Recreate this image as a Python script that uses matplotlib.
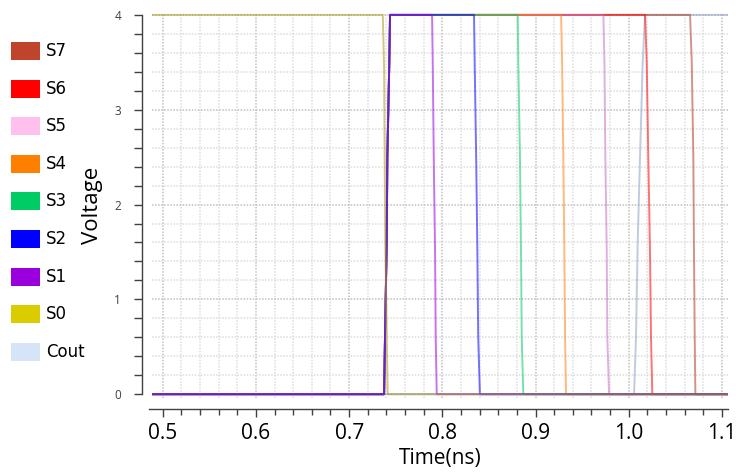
import matplotlib
matplotlib.use('Agg')
from matplotlib import pyplot as plt
from matplotlib.patches import Rectangle
from matplotlib.ticker import MultipleLocator

plt.rcParams['font.family'] = ['Open Sans', 'DejaVu Sans']

# time window of the transient run (ns)
t_begin, t_end = 0.4885, 1.11

# common rising edge of S1..S7 after S0 drops
rise_t = [0.7375, 0.7385, 0.7403, 0.7410, 0.7431, 0.7439]
rise_v = [0, 0.6, 1.6, 2.5, 3.5, 4]

# falling edges, voltages along each edge
fall_v = [4, 3.5, 2.5, 1.5, 0.6, 0]
s1_fall = [0.7890, 0.7897, 0.7908, 0.7922, 0.7929, 0.7940]
s2_fall = [0.8340, 0.8347, 0.8363, 0.8376, 0.8385, 0.8403]
s3_fall = [0.8809, 0.8815, 0.8833, 0.8844, 0.8852, 0.8869]
s4_fall = [0.9274, 0.9285, 0.9298, 0.9309, 0.9317, 0.9327]
s5_fall = [0.9728, 0.9739, 0.9749, 0.9764, 0.9770, 0.9789]
s6_fall = [1.0175, 1.0193, 1.0210, 1.0228, 1.0239, 1.0253]
s7_fall = [1.0658, 1.0676, 1.0693, 1.0700, 1.0708, 1.0715]

s0_t = [t_begin, 0.7361, 0.7375, 0.7382, 0.7388, 0.7414, t_end]
s0_v = [4, 4, 3.45, 2.4, 1.6, 0, 0]

cout_t = [t_begin, 1.0057, 1.0078, 1.0096, 1.0121, 1.0150, 1.0175, t_end]
cout_v = [0, 0, 0.6, 1.6, 2.5, 3.5, 4, 4]

legend_names = ['S7', 'S6', 'S5', 'S4', 'S3', 'S2', 'S1', 'S0', 'Cout']
legend_colors = ['#c0432c', '#ff0000', '#ffc0ee', '#ff8000', '#00cc66',
                 '#0000ff', '#9900dd', '#d9cc00', '#d6e4f8']
# traces are drawn half transparent; these give the tints seen on the plot
line_colors = ['#b03a20', '#ff0000', '#c66fc6', '#ff8010', '#00cc66',
               '#0000ff', '#9900dd', '#a89a20', '#8ca2c6']
colors = dict(zip(legend_names, line_colors))


def pulse(fall_t):
    t = [t_begin] + rise_t + fall_t + [t_end]
    v = [0] + rise_v + fall_v + [0]
    return t, v


fig = plt.figure(figsize=(7.36, 4.74), dpi=100)
ax = fig.add_axes([152 / 736, 1 - 398 / 474, 576 / 736, 385 / 474])

# drawing order: Cout at the bottom, S0 on top
ax.plot(cout_t, cout_v, color=colors['Cout'], lw=1.4, alpha=0.55)
for name, ft in [('S7', s7_fall), ('S6', s6_fall), ('S5', s5_fall), ('S4', s4_fall),
                 ('S3', s3_fall), ('S2', s2_fall), ('S1', s1_fall)]:
    t, v = pulse(ft)
    ax.plot(t, v, color=colors[name], lw=1.4, alpha=0.55)
ax.plot(s0_t, s0_v, color=colors['S0'], lw=1.4, alpha=0.55)

ax.set_xlim(t_begin, 1.1065)
ax.set_ylim(-0.04, 4.02)

ax.xaxis.set_major_locator(MultipleLocator(0.1))
ax.xaxis.set_minor_locator(MultipleLocator(0.02))
ax.yaxis.set_major_locator(MultipleLocator(1))
ax.yaxis.set_minor_locator(MultipleLocator(0.2))
ax.set_xticks([0.5, 0.6, 0.7, 0.8, 0.9, 1.0, 1.1])
ax.set_xticklabels(['0.5', '0.6', '0.7', '0.8', '0.9', '1.0', '1.1'])
ax.set_yticks([0, 1, 2, 3, 4])
ax.set_yticklabels(['0', '1', '2', '3', '4'])

ax.set_axisbelow(True)
ax.grid(which='major', color='#c0c0c0', linestyle=(0, (1, 1)), lw=1.1)
ax.grid(which='minor', color='#dcdcdc', linestyle=(0, (1, 1)), lw=1.1)

for s in ['top', 'right']:
    ax.spines[s].set_visible(False)
ax.spines['left'].set_position(('outward', 7.2))
ax.spines['bottom'].set_position(('outward', 8))
ax.spines['left'].set_bounds(0, 4)
ax.spines['bottom'].set_bounds(0.485, 1.1065)
for s in ['left', 'bottom']:
    ax.spines[s].set_color('#404040')
    ax.spines[s].set_linewidth(1.0)

ax.tick_params(axis='y', which='both', direction='out', length=6, width=1,
               color='#404040', labelsize=8.5, labelcolor='#404040', pad=9)
ax.tick_params(axis='x', which='major', direction='out', length=6, width=1,
               color='#404040', labelsize=15, pad=4)
ax.tick_params(axis='x', which='minor', direction='out', length=4, width=1,
               color='#404040')

ax.set_xlabel('Time(ns)', fontsize=15, labelpad=3)
ax.set_ylabel('Voltage', fontsize=16, labelpad=8)

# legend column on the left
for i, (name, col) in enumerate(zip(legend_names, legend_colors)):
    yc = 51 + i * 37.6
    fig.add_artist(Rectangle((11 / 736, (474 - yc - 9) / 474), 29 / 736, 18 / 474,
                             transform=fig.transFigure, facecolor=col, edgecolor='none'))
    fig.text(46 / 736, 1 - yc / 474, name, va='center', ha='left', fontsize=12,
             family=['DejaVu Sans'])

fig.savefig('out.png', dpi=100)
